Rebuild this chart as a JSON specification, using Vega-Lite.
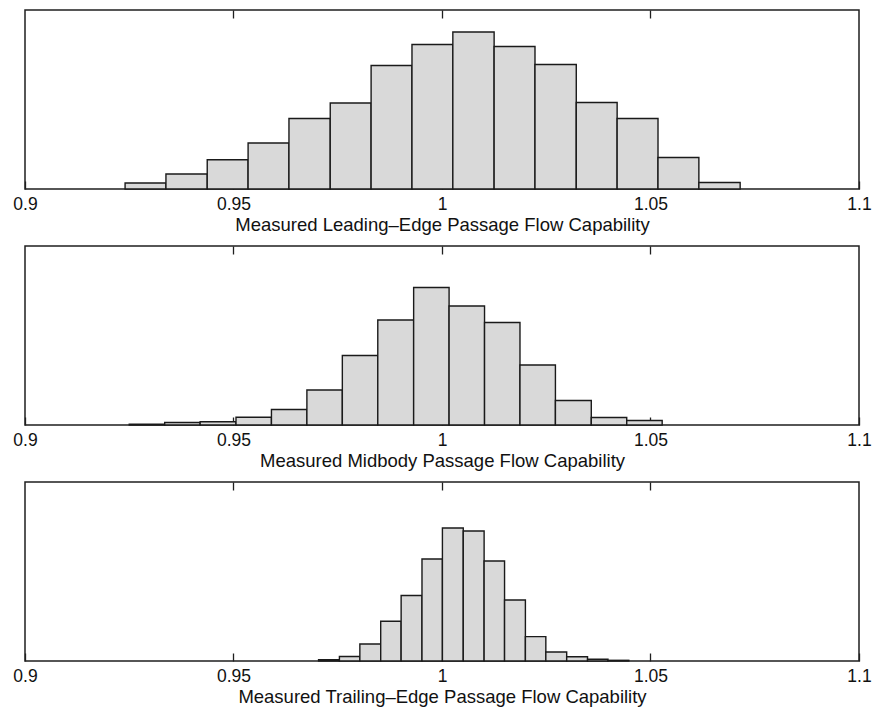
{
  "$schema": "https://vega.github.io/schema/vega-lite/v6.json",
  "padding": {"left": 12, "top": 8, "right": 0, "bottom": 5},
  "background": "white",
  "bounds": "flush",
  "spacing": 57,
  "config": {
    "view": {"stroke": "#1f1f1f", "strokeWidth": 1.5},
    "axis": {"grid": false, "domain": false}
  },
  "datasets": {
    "leading": [
      {"start": 0.9240, "end": 0.9338, "count": 6},
      {"start": 0.9338, "end": 0.9437, "count": 15},
      {"start": 0.9437, "end": 0.9535, "count": 29.2},
      {"start": 0.9535, "end": 0.9633, "count": 46},
      {"start": 0.9633, "end": 0.9732, "count": 70.5},
      {"start": 0.9732, "end": 0.9830, "count": 86},
      {"start": 0.9830, "end": 0.9928, "count": 123.5},
      {"start": 0.9928, "end": 1.0026, "count": 144.5},
      {"start": 1.0026, "end": 1.0125, "count": 157},
      {"start": 1.0125, "end": 1.0223, "count": 142.5},
      {"start": 1.0223, "end": 1.0322, "count": 124.5},
      {"start": 1.0322, "end": 1.0420, "count": 86.5},
      {"start": 1.0420, "end": 1.0518, "count": 70.5},
      {"start": 1.0518, "end": 1.0616, "count": 31.5},
      {"start": 1.0616, "end": 1.0715, "count": 6.5}
    ],
    "midbody": [
      {"start": 0.9250, "end": 0.9335, "count": 0.7},
      {"start": 0.9335, "end": 0.9420, "count": 2.5},
      {"start": 0.9420, "end": 0.9506, "count": 3.3},
      {"start": 0.9506, "end": 0.9591, "count": 7.7},
      {"start": 0.9591, "end": 0.9676, "count": 15.5},
      {"start": 0.9676, "end": 0.9761, "count": 35},
      {"start": 0.9761, "end": 0.9846, "count": 69.5},
      {"start": 0.9846, "end": 0.9932, "count": 105},
      {"start": 0.9932, "end": 1.0017, "count": 137.5},
      {"start": 1.0017, "end": 1.0102, "count": 119},
      {"start": 1.0102, "end": 1.0187, "count": 102.5},
      {"start": 1.0187, "end": 1.0272, "count": 60},
      {"start": 1.0272, "end": 1.0358, "count": 24.5},
      {"start": 1.0358, "end": 1.0443, "count": 7.5},
      {"start": 1.0443, "end": 1.0528, "count": 4.5}
    ],
    "trailing": [
      {"start": 0.9704, "end": 0.9754, "count": 1.3},
      {"start": 0.9754, "end": 0.9803, "count": 4.5},
      {"start": 0.9803, "end": 0.9853, "count": 17},
      {"start": 0.9853, "end": 0.9902, "count": 39.7},
      {"start": 0.9902, "end": 0.9952, "count": 65.5},
      {"start": 0.9952, "end": 1.0001, "count": 102},
      {"start": 1.0001, "end": 1.0051, "count": 133},
      {"start": 1.0051, "end": 1.0101, "count": 130},
      {"start": 1.0101, "end": 1.0150, "count": 100},
      {"start": 1.0150, "end": 1.0200, "count": 61},
      {"start": 1.0200, "end": 1.0249, "count": 24.4},
      {"start": 1.0249, "end": 1.0299, "count": 9},
      {"start": 1.0299, "end": 1.0349, "count": 4.3},
      {"start": 1.0349, "end": 1.0398, "count": 1.8},
      {"start": 1.0398, "end": 1.0448, "count": 0.7}
    ]
  },
  "vconcat": [
    {
      "width": 834, "height": 179,
      "data": {"name": "leading"},
      "encoding": {
        "x": {"field": "start", "type": "quantitative", "scale": {"domain": [0.9, 1.1], "nice": false, "zero": false},
          "axis": {"orient": "bottom", "values": [0.9, 0.95, 1, 1.05, 1.1], "format": "~g", "tickSize": -8, "tickColor": "#1f1f1f", "tickWidth": 1.3, "labelFlush": false, "labelOverlap": false, "labelPadding": 14.5, "labelFontSize": 17.5, "labelFont": "Liberation Sans", "labelColor": "#111111", "title": "Measured Leading–Edge Passage Flow Capability", "titleFontSize": 18.5, "titleFont": "Liberation Sans", "titleFontWeight": "normal", "titleColor": "#111111", "titlePadding": 2}},
        "x2": {"field": "end"},
        "y": {"field": "count", "type": "quantitative", "scale": {"domain": [0, 179], "nice": false}, "axis": null},
        "y2": {"datum": 0}
      },
      "layer": [
        {"mark": {"type": "bar", "fill": "#d9d9d9", "stroke": "#1a1a1a", "strokeWidth": 1.4}},
        {"mark": {"type": "bar", "opacity": 0},
          "encoding": {"x": {"field": "start", "type": "quantitative",
            "axis": {"orient": "top", "values": [0.95, 1, 1.05], "labels": false, "tickSize": -8, "tickColor": "#1f1f1f", "tickWidth": 1.3, "title": null}}}}
      ],
      "resolve": {"axis": {"x": "independent"}}
    },
    {
      "width": 834, "height": 179,
      "data": {"name": "midbody"},
      "encoding": {
        "x": {"field": "start", "type": "quantitative", "scale": {"domain": [0.9, 1.1], "nice": false, "zero": false},
          "axis": {"orient": "bottom", "values": [0.9, 0.95, 1, 1.05, 1.1], "format": "~g", "tickSize": -8, "tickColor": "#1f1f1f", "tickWidth": 1.3, "labelFlush": false, "labelOverlap": false, "labelPadding": 14.5, "labelFontSize": 17.5, "labelFont": "Liberation Sans", "labelColor": "#111111", "title": "Measured Midbody Passage Flow Capability", "titleFontSize": 18.5, "titleFont": "Liberation Sans", "titleFontWeight": "normal", "titleColor": "#111111", "titlePadding": 2}},
        "x2": {"field": "end"},
        "y": {"field": "count", "type": "quantitative", "scale": {"domain": [0, 179], "nice": false}, "axis": null},
        "y2": {"datum": 0}
      },
      "layer": [
        {"mark": {"type": "bar", "fill": "#d9d9d9", "stroke": "#1a1a1a", "strokeWidth": 1.4}},
        {"mark": {"type": "bar", "opacity": 0},
          "encoding": {"x": {"field": "start", "type": "quantitative",
            "axis": {"orient": "top", "values": [0.95, 1, 1.05], "labels": false, "tickSize": -8, "tickColor": "#1f1f1f", "tickWidth": 1.3, "title": null}}}}
      ],
      "resolve": {"axis": {"x": "independent"}}
    },
    {
      "width": 834, "height": 179,
      "data": {"name": "trailing"},
      "encoding": {
        "x": {"field": "start", "type": "quantitative", "scale": {"domain": [0.9, 1.1], "nice": false, "zero": false},
          "axis": {"orient": "bottom", "values": [0.9, 0.95, 1, 1.05, 1.1], "format": "~g", "tickSize": -8, "tickColor": "#1f1f1f", "tickWidth": 1.3, "labelFlush": false, "labelOverlap": false, "labelPadding": 14.5, "labelFontSize": 17.5, "labelFont": "Liberation Sans", "labelColor": "#111111", "title": "Measured Trailing–Edge Passage Flow Capability", "titleFontSize": 18.5, "titleFont": "Liberation Sans", "titleFontWeight": "normal", "titleColor": "#111111", "titlePadding": 2}},
        "x2": {"field": "end"},
        "y": {"field": "count", "type": "quantitative", "scale": {"domain": [0, 179], "nice": false}, "axis": null},
        "y2": {"datum": 0}
      },
      "layer": [
        {"mark": {"type": "bar", "fill": "#d9d9d9", "stroke": "#1a1a1a", "strokeWidth": 1.4}},
        {"mark": {"type": "bar", "opacity": 0},
          "encoding": {"x": {"field": "start", "type": "quantitative",
            "axis": {"orient": "top", "values": [0.95, 1, 1.05], "labels": false, "tickSize": -8, "tickColor": "#1f1f1f", "tickWidth": 1.3, "title": null}}}}
      ],
      "resolve": {"axis": {"x": "independent"}}
    }
  ]
}
